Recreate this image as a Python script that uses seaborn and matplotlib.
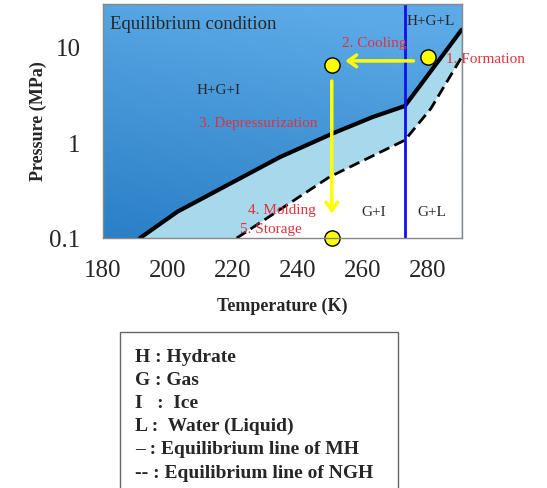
import numpy as np
import matplotlib
matplotlib.use("Agg")
import matplotlib.pyplot as plt
import seaborn as sns
from matplotlib.colors import LinearSegmentedColormap
from matplotlib.patches import Rectangle

# equilibrium lines (temperature K, pressure MPa)
mh_temp = [191.4, 203.0, 234.5, 251.0, 263.0, 273.0, 290.5]
mh_pres = [0.1, 0.19, 0.71, 1.27, 1.87, 2.45, 15.5]
ngh_temp = [221.2, 249.8, 273.0, 281.0, 290.5]
ngh_pres = [0.1, 0.44, 1.07, 2.3, 8.0]

# process states
state_temp = [280.0, 250.5, 250.5]
state_pres = [8.0, 6.6, 0.1]

legend_lines = ["H : Hydrate", "G : Gas", "I   :  Ice", "L :  Water (Liquid)",
                "\u2013 : Equilibrium line of MH", "-- : Equilibrium line of NGH"]

sns.set_theme(style="white")
plt.rcParams['font.family'] = ['Liberation Serif', 'DejaVu Serif']

fig = plt.figure(figsize=(5.47, 4.88), dpi=100)
ax = fig.add_axes([0.188, 0.512, 0.656, 0.480])

xmin, xmax = 180, 290.5
ymin, ymax = 0.1, 29
ax.set_yscale('log')
ax.set_xlim(xmin, xmax)
ax.set_ylim(ymin, ymax)

# gradient background (upper region)
cmap = LinearSegmentedColormap.from_list('bg', ['#2a7fc6', '#5ba9e6'])
grad = np.linspace(0, 1, 256).reshape(-1, 1)
grad = grad + np.linspace(0, 0.25, 256).reshape(1, -1)
ax.imshow(grad, extent=[0, 1, 0, 1], transform=ax.transAxes, origin='lower',
          cmap=cmap, aspect='auto', zorder=0, vmin=0, vmax=1.1)

# region between lines and below
ax.fill(mh_temp + [xmax, mh_temp[0]], mh_pres + [ymin, ymin],
        color='#a8d8ec', zorder=1, lw=0)
ax.fill(ngh_temp + [xmax, ngh_temp[0]], ngh_pres + [ymin, ymin],
        color='white', zorder=2, lw=0)

sns.lineplot(x=mh_temp, y=mh_pres, sort=False, color='black', lw=3, ax=ax, zorder=4)
sns.lineplot(x=ngh_temp, y=ngh_pres, sort=False, color='black', lw=2,
             linestyle=(0, (4, 2)), ax=ax, zorder=4)
ax.axvline(273, color='#1010ee', lw=2, zorder=5)

# yellow arrows
ax.annotate('', xy=(253.8, 7.3), xytext=(276.5, 7.3),
            arrowprops=dict(arrowstyle='->,head_length=0.5,head_width=0.35',
                            color='#ffff00', lw=2.5), zorder=6)
ax.annotate('', xy=(250.5, 0.17), xytext=(250.5, 4.8),
            arrowprops=dict(arrowstyle='->,head_length=0.5,head_width=0.35',
                            color='#ffff00', lw=2.5), zorder=6)

sns.scatterplot(x=state_temp, y=state_pres, s=120, color='#ffff00',
                edgecolor='black', linewidth=1, ax=ax, zorder=7)
for c in ax.collections:
    c.set_clip_on(False)

red = '#e2303c'
ax.text(182.2, 17.5, 'Equilibrium condition', fontsize=13.5, va='center', zorder=8)
ax.text(273.5, 18.8, 'H+G+L', fontsize=11, va='center', zorder=8)
ax.text(253.5, 11, '2. Cooling', fontsize=11, color=red, va='center', zorder=8)
ax.text(285.8, 7.5, '1. Formation', fontsize=11, color=red, va='center', zorder=8, clip_on=False)
ax.text(208.9, 3.6, 'H+G+I', fontsize=11, va='center', zorder=8)
ax.text(209.5, 1.62, '3. Depressurization', fontsize=11, color=red, va='center', zorder=8)
ax.text(224.6, 0.197, '4. Molding', fontsize=11, color=red, va='center', zorder=8)
ax.text(222.2, 0.124, '5. Storage', fontsize=11, color=red, va='center', zorder=8)
ax.text(259.7, 0.188, 'G+I', fontsize=11, va='center', zorder=8)
ax.text(276.9, 0.188, 'G+L', fontsize=11, va='center', zorder=8)

ax.set_xticks([180, 200, 220, 240, 260, 280])
ax.set_yticks([0.1, 1, 10])
ax.set_yticklabels(['0.1', '1', '10'])
ax.minorticks_off()
ax.tick_params(axis='x', direction='in', length=5, color='#888888', pad=16, labelsize=18)
ax.tick_params(axis='y', length=0, pad=16, labelsize=18)
for s in ax.spines.values():
    s.set_color('#888888')
    s.set_linewidth(1)
    s.set_zorder(9)

ax.set_xlabel('Temperature (K)', fontsize=13, fontweight='bold', labelpad=11)
ax.set_ylabel('Pressure (MPa)', fontsize=13, fontweight='bold', labelpad=2)

# explanation box
fig.patches.append(Rectangle((120 / 547, -0.01), (398 - 120) / 547, 1 - 332 / 488 + 0.01,
                             transform=fig.transFigure, fill=False,
                             edgecolor='#666666', lw=1))
for i, line in enumerate(legend_lines):
    fig.text(135 / 547, 1 - (357 + 23.2 * i) / 488, line, fontsize=14,
             fontweight='bold', va='center', ha='left')

fig.savefig('out.png', dpi=100)
